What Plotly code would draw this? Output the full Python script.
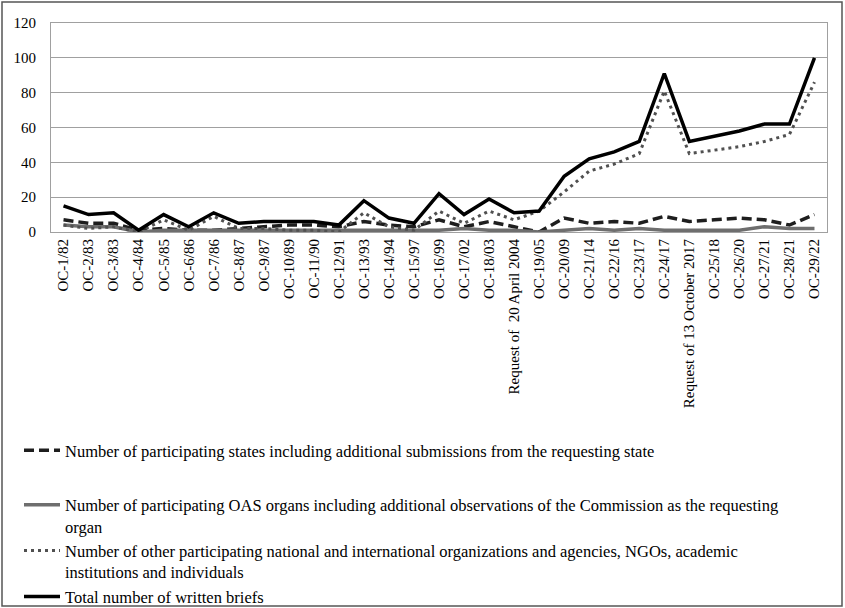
import plotly.graph_objects as go

categories = ["OC-1/82", "OC-2/83", "OC-3/83", "OC-4/84", "OC-5/85", "OC-6/86", "OC-7/86", "OC-8/87",
              "OC-9/87", "OC-10/89", "OC-11/90", "OC-12/91", "OC-13/93", "OC-14/94", "OC-15/97",
              "OC-16/99", "OC-17/02", "OC-18/03", "Request of \u00a020 April 2004", "OC-19/05", "OC-20/09",
              "OC-21/14", "OC-22/16", "OC-23/17", "OC-24/17", "Request of 13 October 2017", "OC-25/18",
              "OC-26/20", "OC-27/21", "OC-28/21", "OC-29/22"]

states = [7, 5, 5, 1, 2, 1, 1, 2, 3, 4, 4, 3, 6, 4, 3, 7, 3, 6, 3, 0, 8, 5, 6, 5, 9, 6, 7, 8, 7, 4, 10]
oas_organs = [4, 3, 3, 0, 1, 1, 1, 1, 1, 1, 1, 1, 1, 1, 1, 1, 2, 1, 1, 0, 1, 2, 1, 2, 1, 1, 1, 1, 3, 2, 2]
others = [4, 2, 3, 0, 7, 1, 9, 2, 2, 1, 1, 0, 11, 3, 1, 12, 5, 12, 7, 12, 23, 35, 39, 45, 81, 45, 47, 49, 52, 56, 86]
total = [15, 10, 11, 1, 10, 3, 11, 5, 6, 6, 6, 4, 18, 8, 5, 22, 10, 19, 11, 12, 32, 42, 46, 52, 91, 52, 55, 58, 62, 62, 100]

names = [
    "Number of participating states including additional submissions from the requesting state",
    "Number of participating OAS organs including additional observations of the Commission as the requesting<br>organ",
    "Number of other participating national and international organizations and agencies, NGOs, academic<br>institutions and individuals",
    "Total number of written briefs",
]

FONT = "Liberation Serif, Times New Roman, serif"

fig = go.Figure()
fig.add_trace(go.Scatter(x=categories, y=states, mode="lines", name=names[0], legendgroup="g1",
                         line=dict(color="#1e1e1e", width=3.5, dash="10px,5px")))
fig.add_trace(go.Scatter(x=categories, y=oas_organs, mode="lines", name=names[1], legendgroup="g2",
                         line=dict(color="#6e6e6e", width=3.5)))
fig.add_trace(go.Scatter(x=categories, y=others, mode="lines", name=names[2], legendgroup="g2",
                         line=dict(color="#505050", width=3, dash="3px,4px")))
fig.add_trace(go.Scatter(x=categories, y=total, mode="lines", name=names[3], legendgroup="g2",
                         line=dict(color="#000000", width=3.5)))

fig.update_layout(
    width=845, height=608,
    margin=dict(l=51, r=18, t=23, b=376, autoexpand=False),
    paper_bgcolor="white", plot_bgcolor="white",
    font=dict(family=FONT, size=15, color="#000000"),
    showlegend=True,
    legend=dict(x=19 / 845, y=1 - 433 / 608, xref="container", yref="container",
                xanchor="left", yanchor="top",
                font=dict(family=FONT, size=16.5, color="#000000"),
                tracegroupgap=30, valign="top", itemwidth=36, bgcolor="rgba(0,0,0,0)",
                groupclick="toggleitem"),
    xaxis=dict(type="category", tickangle=-90, showgrid=False, showline=True, linecolor="#a0a0a0",
               linewidth=1, mirror=True, ticks="", range=[-0.5, 30.5], automargin=False,
               tickfont=dict(family=FONT, size=15, color="#000000")),
    yaxis=dict(range=[0, 120], dtick=20, showgrid=True, gridcolor="#a0a0a0", gridwidth=1,
               showline=True, linecolor="#a0a0a0", linewidth=1, mirror=True, ticks="",
               zeroline=False, ticklabelstandoff=11, automargin=False,
               tickfont=dict(family=FONT, size=15, color="#000000")),
    shapes=[dict(type="rect", xref="paper", yref="paper",
                 x0=(2 - 51) / 776, x1=(842 - 51) / 776,
                 y0=(232 - 606) / 209, y1=(232 - 2) / 209,
                 line=dict(color="#555555", width=1.5), fillcolor="rgba(0,0,0,0)")],
)

fig.write_html("out.html", config={"displayModeBar": False},
               post_script="document.body.style.margin='0px';")
